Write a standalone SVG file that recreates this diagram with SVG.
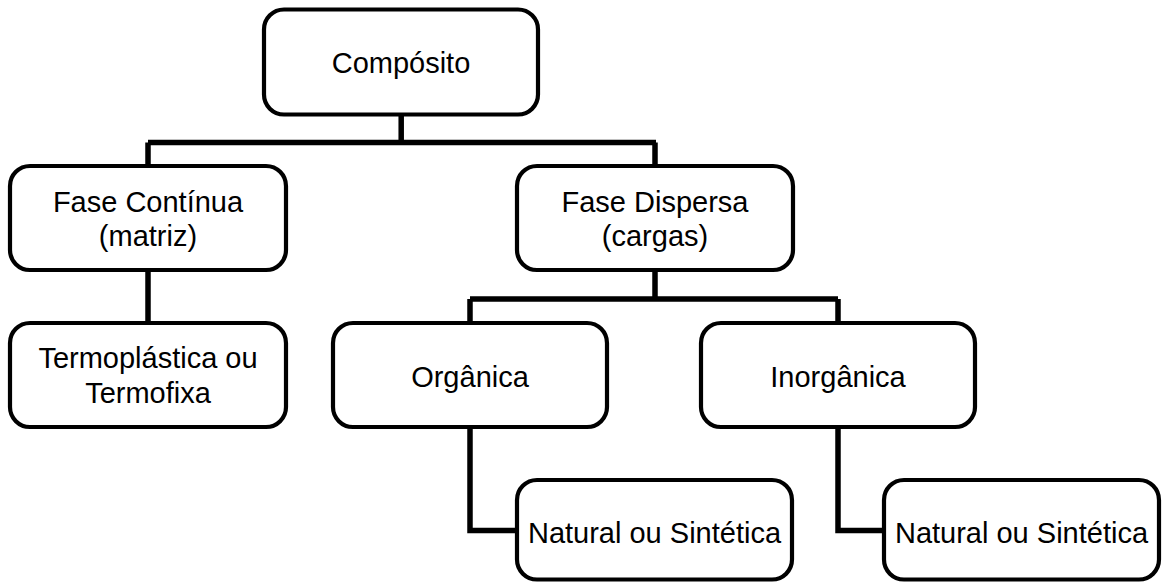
<svg xmlns="http://www.w3.org/2000/svg" width="1171" height="585" viewBox="0 0 1171 585">
  <style>
    .box { fill: #ffffff; stroke: #000000; stroke-width: 4.2; }
    .wire { fill: none; stroke: #000000; stroke-width: 5.5; stroke-linejoin: miter; stroke-linecap: butt; }
    .lbl { font-family: "Liberation Sans", Arial, sans-serif; font-size: 29px; fill: #000000; text-anchor: middle; }
  </style>
  <rect width="1171" height="585" fill="#ffffff"/>

  <!-- tree connectors -->
  <g id="connectors">
    <path class="wire" d="M401.2 114 V142.5 M148 142.5 H656 M148 142.5 V166 M655 142.5 V166"/>
    <path class="wire" d="M148 270 V323"/>
    <path class="wire" d="M655 270 V299 M470 299 H838 M470 299 V323 M838 299 V323"/>
    <path class="wire" d="M470 427 V530.5 H517"/>
    <path class="wire" d="M838 427 V530.5 H883"/>
  </g>

  <g id="composito">
    <rect class="box" x="264" y="9.5" width="274" height="105" rx="20"/>
    <text class="lbl" x="401" y="73">Compósito</text>
  </g>

  <g id="fase-continua">
    <rect class="box" x="10" y="166" width="276" height="104" rx="20"/>
    <text class="lbl" x="148" y="212">Fase Contínua</text>
    <text class="lbl" x="148" y="246">(matriz)</text>
  </g>

  <g id="fase-dispersa">
    <rect class="box" x="517" y="166" width="276" height="104" rx="20"/>
    <text class="lbl" x="655" y="212">Fase Dispersa</text>
    <text class="lbl" x="655" y="246">(cargas)</text>
  </g>

  <g id="termoplastica">
    <rect class="box" x="10" y="323" width="276" height="104" rx="20"/>
    <text class="lbl" x="148" y="368">Termoplástica ou</text>
    <text class="lbl" x="148" y="403">Termofixa</text>
  </g>

  <g id="organica">
    <rect class="box" x="333" y="323" width="274" height="104" rx="20"/>
    <text class="lbl" x="470" y="387">Orgânica</text>
  </g>

  <g id="inorganica">
    <rect class="box" x="701" y="323" width="274" height="104" rx="20"/>
    <text class="lbl" x="838" y="387">Inorgânica</text>
  </g>

  <g id="natural-organica">
    <rect class="box" x="517" y="480" width="275" height="99.5" rx="20"/>
    <text class="lbl" x="654.5" y="543">Natural ou Sintética</text>
  </g>

  <g id="natural-inorganica">
    <rect class="box" x="884" y="480" width="275" height="99.5" rx="20"/>
    <text class="lbl" x="1021.5" y="543">Natural ou Sintética</text>
  </g>
</svg>
